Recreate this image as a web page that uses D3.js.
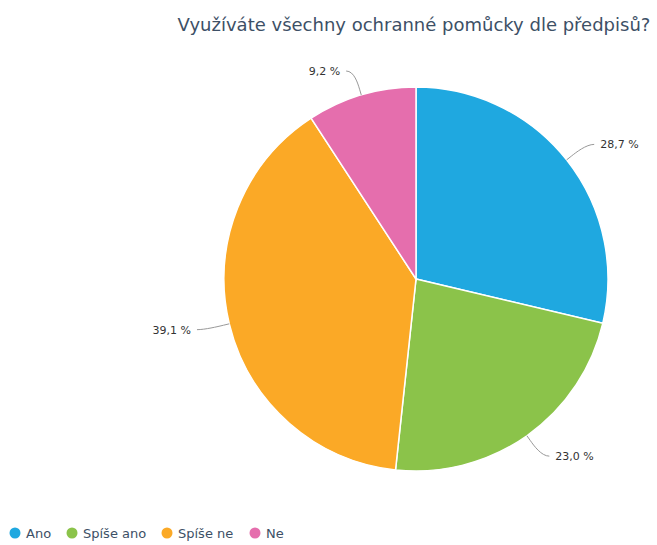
<!DOCTYPE html>
<html>
<head>
<meta charset="utf-8">
<script src="https://cdn.jsdelivr.net/npm/d3@7"></script>
<style>
  body { margin: 0; background: #fff; }
  svg { display: block; font-family: "DejaVu Sans", sans-serif; }
</style>
</head>
<body>
<script>
var title = "Využíváte všechny ochranné pomůcky dle předpisů?";
var categories = ["Ano", "Spíše ano", "Spíše ne", "Ne"];
var values = [28.7, 23.0, 39.1, 9.2];
var colors = ["#1fa8e0", "#8bc34a", "#fba926", "#e56ead"];

var width = 657, height = 545;
var cx = 416, cy = 279, r = 192;

var svg = d3.select("body").append("svg")
    .attr("width", width)
    .attr("height", height);

svg.append("text")
    .attr("x", 414)
    .attr("y", 31)
    .attr("text-anchor", "middle")
    .style("font-size", "18px")
    .style("fill", "#3d5066")
    .text(title);

var data = categories.map(function(c, i) { return { name: c, value: values[i], color: colors[i] }; });

var pie = d3.pie().sort(null).value(function(d) { return d.value; });
var arcs = pie(data);
var arc = d3.arc().innerRadius(0).outerRadius(r);

var g = svg.append("g").attr("transform", "translate(" + cx + "," + cy + ")");

g.selectAll("path.slice")
    .data(arcs)
    .enter().append("path")
    .attr("class", "slice")
    .attr("d", arc)
    .style("fill", function(d) { return d.data.color; })
    .style("stroke", "#fff")
    .style("stroke-width", 1.5);

function polar(a, rad) {
  return [Math.sin(a) * rad, -Math.cos(a) * rad];
}

var fmt = function(v) { return v.toFixed(1).replace(".", ",") + " %"; };

arcs.forEach(function(d) {
  var a = (d.startAngle + d.endAngle) / 2;
  var right = Math.sin(a) >= 0;
  var s = right ? 1 : -1;
  var p0 = polar(a, r);
  var p1 = polar(a, r + 6);
  var lp = polar(a, r + 25);
  var ex = lp[0] + s * 8, ey = lp[1];
  var path = "M" + ex + "," + ey +
    "C" + lp[0] + "," + lp[1] + " " + (2 * p1[0] - p0[0]) + "," + (2 * p1[1] - p0[1]) + " " + p1[0] + "," + p1[1] +
    "L" + p0[0] + "," + p0[1];
  g.append("path")
    .attr("d", path)
    .style("fill", "none")
    .style("stroke", "#999")
    .style("stroke-width", 1);
  g.append("text")
    .attr("x", lp[0] + s * 14)
    .attr("y", lp[1])
    .attr("dy", "0.35em")
    .attr("text-anchor", right ? "start" : "end")
    .style("font-size", "11px")
    .style("fill", "#333")
    .text(fmt(d.data.value));
});

// legend at the bottom edge
var legendX = [15, 72, 167, 255];
var legend = svg.selectAll("g.legend")
    .data(data)
    .enter().append("g")
    .attr("class", "legend")
    .attr("transform", function(d, i) { return "translate(" + legendX[i] + ",533)"; });

legend.append("circle")
    .attr("r", 5.5)
    .style("fill", function(d) { return d.color; });

legend.append("text")
    .attr("x", 11)
    .attr("y", 5)
    .style("font-size", "13px")
    .style("fill", "#3d5066")
    .text(function(d) { return d.name; });
</script>
</body>
</html>
